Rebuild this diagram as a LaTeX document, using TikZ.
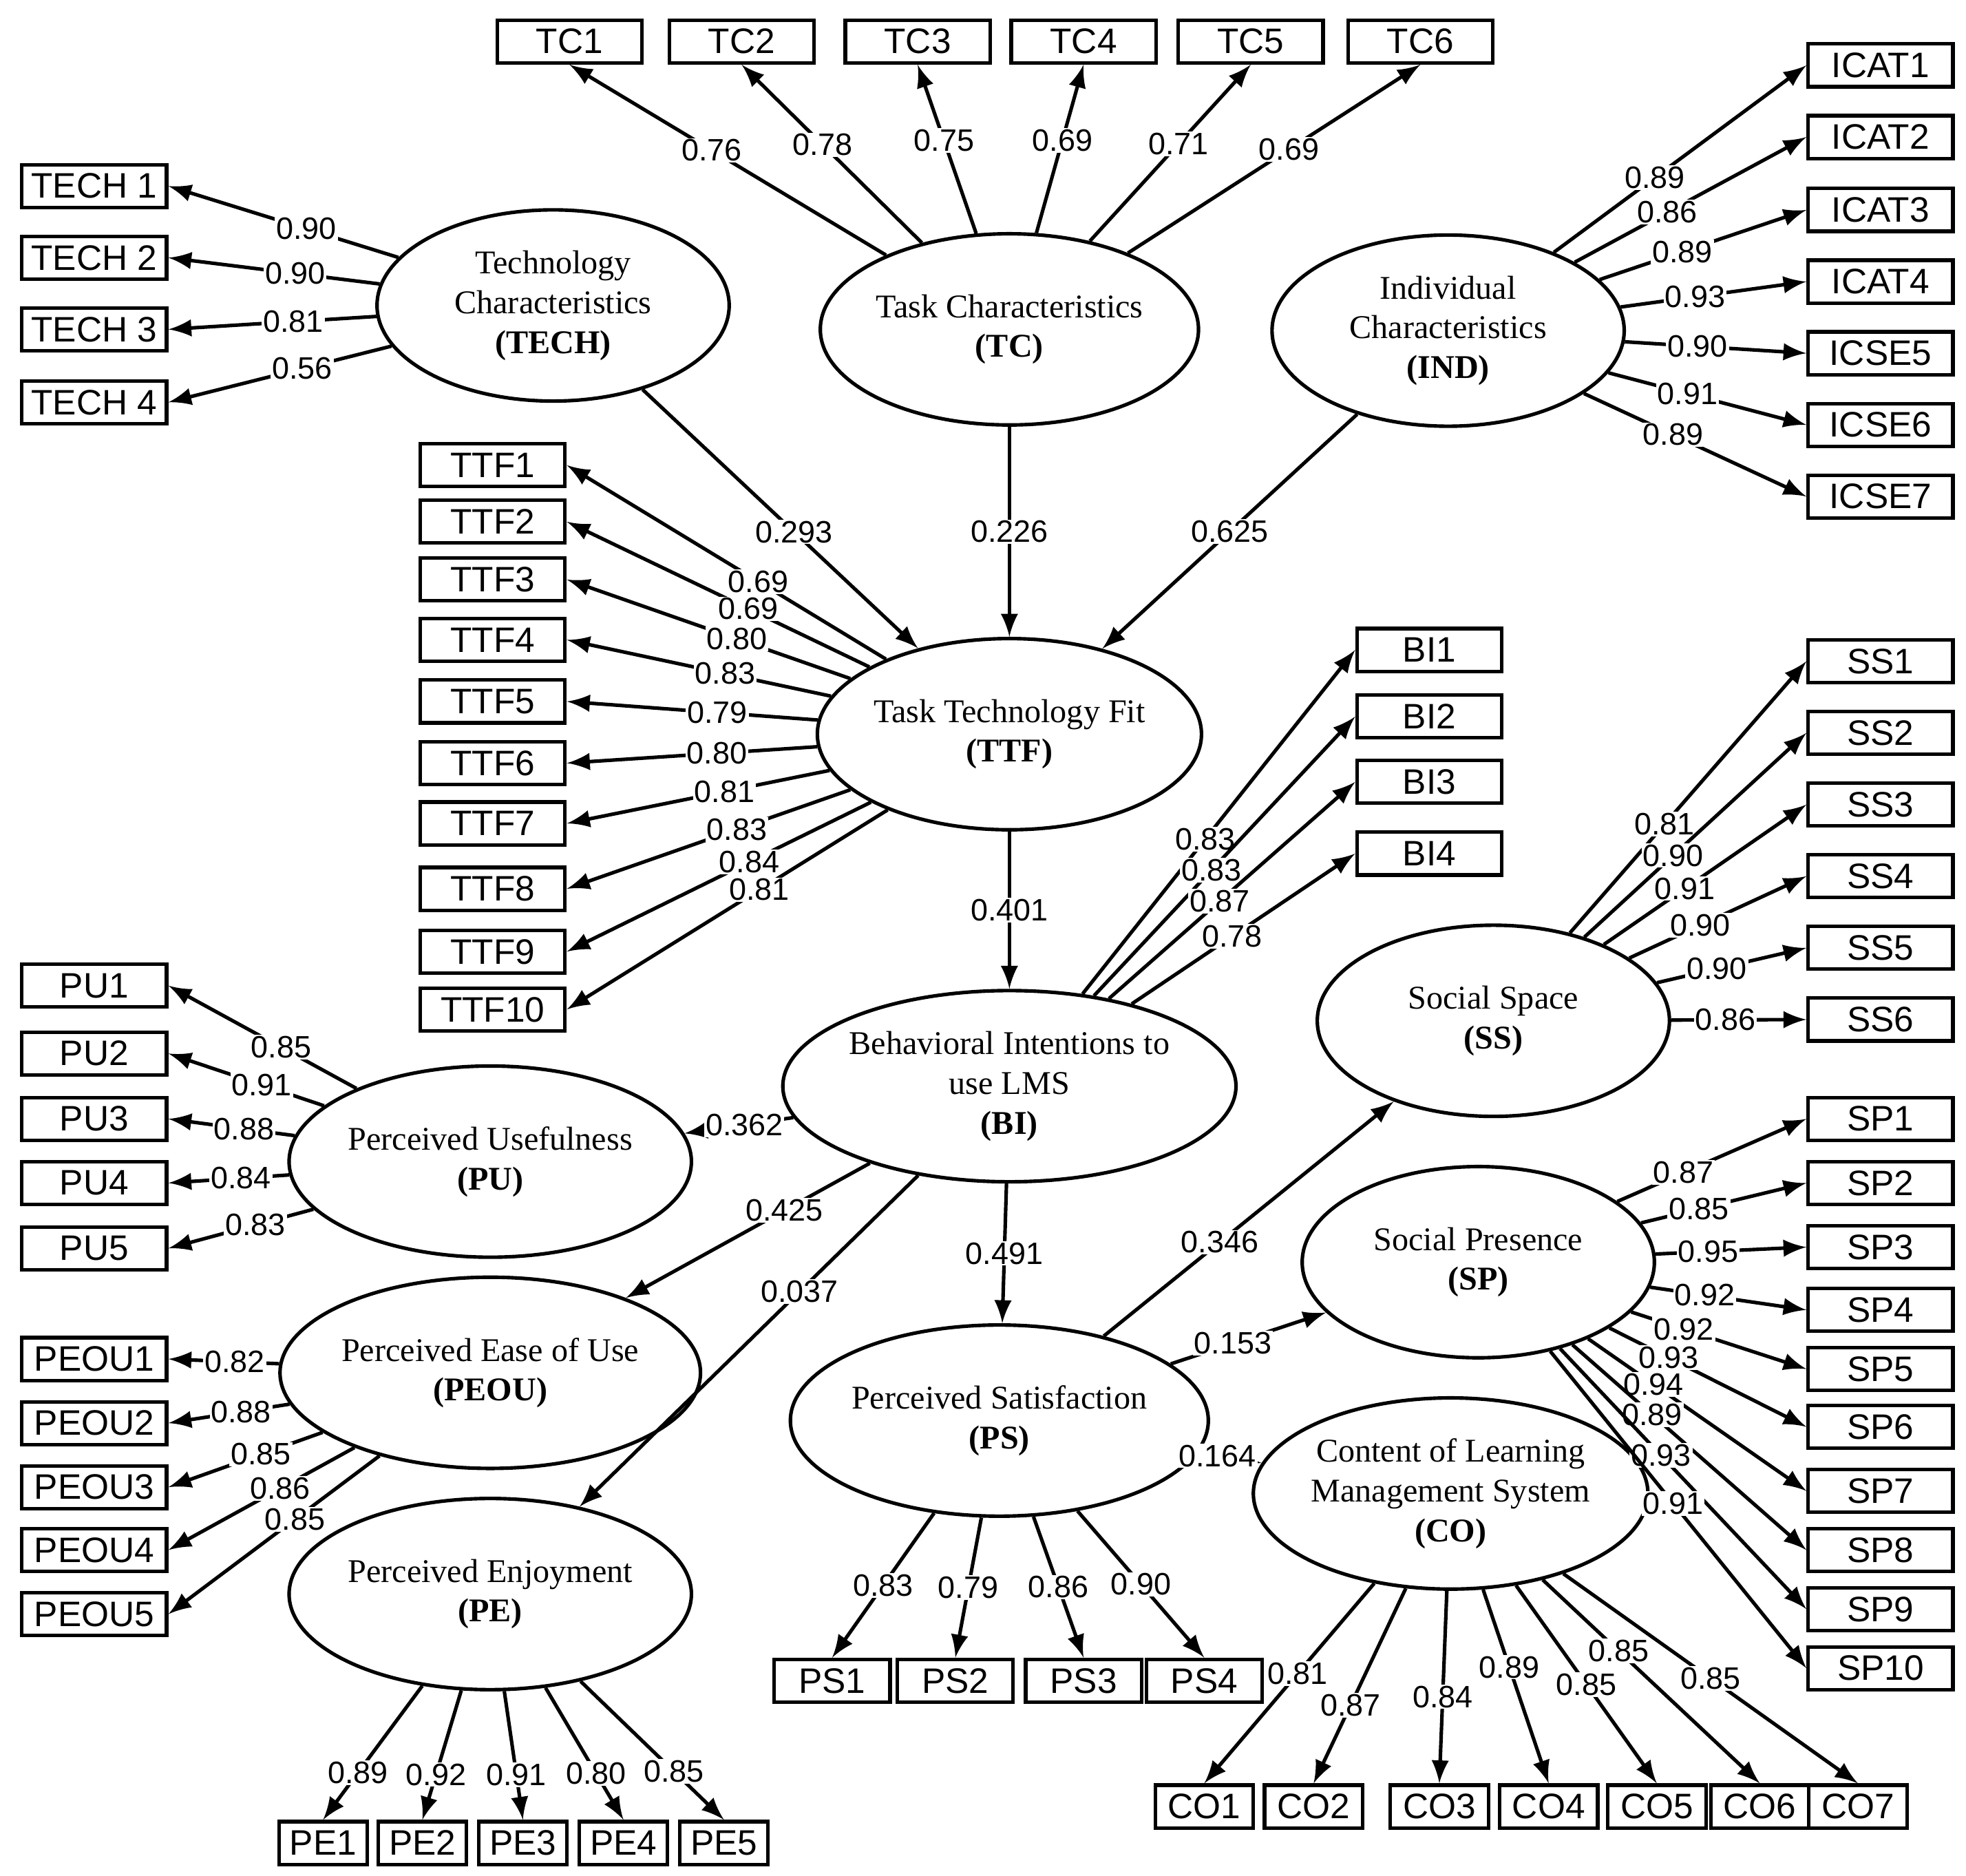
\documentclass[tikz,border=0pt]{standalone}
\usepackage{fontspec}
\setmainfont{Liberation Serif}
\newfontfamily\boxfont{Liberation Sans}
\usetikzlibrary{arrows,shapes.geometric}
\begin{document}
\begin{tikzpicture}[x=0.01cm,y=-0.01cm,>=latex,
  item/.style={draw,thick,minimum width=1.15cm,minimum height=0.34cm,inner sep=1pt,font=\boxfont\fontsize{8}{9}\selectfont},
  latent/.style={draw,thick,ellipse,minimum width=2.8cm,minimum height=1.52cm,align=center,font=\fontsize{7.5}{9}\selectfont,inner sep=0pt},
  wt/.style={fill=white,inner sep=0.3pt,font=\boxfont\fontsize{7}{8}\selectfont},
  path/.style={->,thick}]
\useasboundingbox (0,0) rectangle (1564,1492);
% latent variables
\node[latent] (TECH) at (440,243) {Technology\\Characteristics\\\textbf{(TECH)}};
\node[latent] (TC) at (803,262) {Task Characteristics\\\textbf{(TC)}};
\node[latent] (IND) at (1152,263) {Individual\\Characteristics\\\textbf{(IND)}};
\node[latent] (TTF) at (803,584) {Task Technology Fit\\\textbf{(TTF)}};
\node[latent] (BI) at (803,864) {Behavioral Intentions to\\use LMS\\\textbf{(BI)}};
\node[latent] (PU) at (390,924) {Perceived Usefulness\\\textbf{(PU)}};
\node[latent] (PEOU) at (390,1092) {Perceived Ease of Use\\\textbf{(PEOU)}};
\node[latent] (PE) at (390,1268) {Perceived Enjoyment\\\textbf{(PE)}};
\node[latent] (SS) at (1188,812) {Social Space\\\textbf{(SS)}};
\node[latent] (SP) at (1176,1004) {Social Presence\\\textbf{(SP)}};
\node[latent] (PS) at (795,1130) {Perceived Satisfaction\\\textbf{(PS)}};
\node[latent] (CO) at (1154,1188) {Content of Learning\\Management System\\\textbf{(CO)}};
% indicators
\foreach \i/\x/\w in {1/453/0.76,2/590/0.78,3/730/0.75,4/862/0.69,5/995/0.71,6/1130/0.69}{
  \node[item] (TC\i) at (\x,33) {TC\i};
  \draw[path] (TC) -- (TC\i.south) node[wt,pos=0.55] {\w};}
\foreach \i/\y/\w in {1/148/0.90,2/205/0.90,3/262/0.81,4/320/0.56}{
  \node[item] (TECH\i) at (75,\y) {TECH \i};
  \draw[path] (TECH) -- (TECH\i.east) node[wt,pos=0.4] {\w};}
\foreach \n/\y/\w in {ICAT1/52/0.89,ICAT2/109/0.86,ICAT3/167/0.89,ICAT4/224/0.93,ICSE5/281/0.90,ICSE6/338/0.91,ICSE7/395/0.89}{
  \node[item] (\n) at (1496,\y) {\n};
  \draw[path] (IND) -- (\n.west) node[wt,pos=0.4] {\w};}
\foreach \i/\y/\w in {1/370/0.69,2/415/0.69,3/461/0.80,4/509/0.83,5/558/0.79,6/607/0.80,7/655/0.81,8/707/0.83,9/757/0.84,10/803/0.81}{
  \node[item] (TTF\i) at (392,\y) {TTF\i};
  \draw[path] (TTF) -- (TTF\i.east) node[wt,pos=0.4] {\w};}
\foreach \i/\y/\w in {1/517/0.83,2/570/0.83,3/622/0.87,4/679/0.78}{
  \node[item] (BI\i) at (1137,\y) {BI\i};
  \draw[path] (BI) -- (BI\i.west) node[wt,pos=0.45] {\w};}
\foreach \i/\y/\w in {1/526/0.81,2/583/0.90,3/640/0.91,4/697/0.90,5/754/0.90,6/811/0.86}{
  \node[item] (SS\i) at (1496,\y) {SS\i};
  \draw[path] (SS) -- (SS\i.west) node[wt,pos=0.4] {\w};}
\foreach \i/\y/\w in {1/784/0.85,2/838/0.91,3/890/0.88,4/941/0.84,5/993/0.83}{
  \node[item] (PU\i) at (75,\y) {PU\i};
  \draw[path] (PU) -- (PU\i.east) node[wt,pos=0.4] {\w};}
\foreach \i/\y/\w in {1/1081/0.82,2/1132/0.88,3/1183/0.85,4/1233/0.86,5/1284/0.85}{
  \node[item] (PEOU\i) at (75,\y) {PEOU\i};
  \draw[path] (PEOU) -- (PEOU\i.east) node[wt,pos=0.4] {\w};}
\foreach \i/\y/\w/\p in {1/890/0.87/0.35,2/941/0.85/0.35,3/992/0.95/0.35,4/1042/0.92/0.35,5/1089/0.92/0.3,6/1135/0.93/0.3,7/1186/0.94/0.3,8/1233/0.89/0.34,9/1280/0.93/0.41,10/1327/0.91/0.48}{
  \node[item] (SP\i) at (1496,\y) {SP\i};
  \draw[path] (SP) -- (SP\i.west) node[wt,pos=\p] {\w};}
\foreach \i/\x/\w in {1/662/0.83,2/760/0.79,3/862/0.86,4/958/0.90}{
  \node[item,minimum width=0.92cm] (PS\i) at (\x,1337) {PS\i};
  \draw[path] (PS) -- (PS\i.north) node[wt,pos=0.5] {\w};}
\foreach \i/\x/\w in {1/257/0.89,2/336/0.92,3/416/0.91,4/496/0.80,5/576/0.85}{
  \node[item,minimum width=0.7cm] (PE\i) at (\x,1466) {PE\i};
  \draw[path] (PE) -- (PE\i.north) node[wt,pos=0.65] {\w};}
\foreach \i/\x/\w/\p in {1/958/0.81/0.45,2/1045/0.87/0.6,3/1145/0.84/0.55,4/1232/0.89/0.4,5/1318/0.85/0.5,6/1400/0.85/0.35,7/1478/0.85/0.5}{
  \node[item,minimum width=0.78cm] (CO\i) at (\x,1437) {CO\i};
  \draw[path] (CO) -- (CO\i.north) node[wt,pos=\p] {\w};}
% structural paths
\draw[path] (TECH) -- (TTF) node[wt,pos=0.55] {0.293};
\draw[path] (TC) -- (TTF) node[wt,pos=0.5] {0.226};
\draw[path] (IND) -- (TTF) node[wt,pos=0.5] {0.625};
\draw[path] (TTF) -- (BI) node[wt,pos=0.5] {0.401};
\draw[path] (BI) -- (PU) node[wt,pos=0.45] {0.362};
\draw[path] (BI) -- (PEOU) node[wt,pos=0.35] {0.425};
\draw[path] (BI) -- (PE) node[wt,pos=0.35] {0.037};
\draw[path] (BI) -- (PS) node[wt,pos=0.5] {0.491};
\draw[path] (PS) -- (SS) node[wt,pos=0.4] {0.346};
\draw[path] (PS) -- (SP) node[wt,pos=0.4] {0.153};
\draw[path] (PS) -- (CO) node[wt,pos=0.3] {0.164};
\end{tikzpicture}
\end{document}
